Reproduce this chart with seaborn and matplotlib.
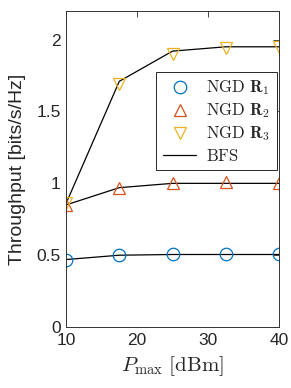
import numpy as np
import pandas as pd
import seaborn as sns
import matplotlib.pyplot as plt
from matplotlib.ticker import FormatStrFormatter

# data
p_max = [10, 17.5, 25, 32.5, 40]
ngd_r1 = [0.465, 0.50, 0.505, 0.505, 0.505]
ngd_r2 = [0.85, 0.97, 1.00, 1.01, 1.00]
ngd_r3 = [0.86, 1.69, 1.90, 1.94, 1.95]
bfs_r1 = [0.47, 0.50, 0.505, 0.505, 0.505]
bfs_r2 = [0.85, 0.97, 1.00, 1.00, 1.00]
bfs_r3 = [0.86, 1.71, 1.92, 1.95, 1.95]

sns.set_style("white")
plt.rcParams['font.family'] = ['Liberation Sans', 'DejaVu Sans']
plt.rcParams['mathtext.fontset'] = 'cm'

fig = plt.figure(figsize=(2.91, 3.88), dpi=100)
ax = fig.add_axes([0.227, 0.157, 0.732, 0.815])

# BFS curves (black lines)
for i, vals in enumerate([bfs_r1, bfs_r2, bfs_r3]):
    sns.lineplot(x=p_max, y=vals, ax=ax, color='black', linewidth=0.9,
                 label='$\\mathrm{BFS}$' if i == 2 else None, legend=False)

# NGD markers
colors = ['#0072BD', '#D95319', '#EDB120']
markers = ['o', '^', 'v']
series = [ngd_r1, ngd_r2, ngd_r3]
handles = []
for k, (vals, c, m) in enumerate(zip(series, colors, markers)):
    h, = ax.plot(p_max, vals, linestyle='', marker=m, markersize=9,
                 markerfacecolor='none', markeredgecolor=c, markeredgewidth=0.9,
                 label='$\\mathrm{NGD}\\ \\mathbf{R}_%d$' % (k + 1))
    handles.append(h)
handles.append(ax.get_lines()[2])

ax.set_xlim(10, 40)
ax.set_ylim(0, 2.2)
ax.set_xticks([10, 20, 30, 40])
ax.set_yticks([0, 0.5, 1, 1.5, 2])
ax.yaxis.set_major_formatter(FormatStrFormatter('%g'))
ax.tick_params(direction='in', top=True, right=True, length=4, width=0.6,
               labelsize=12.5, colors='0.15', pad=4)
for s in ax.spines.values():
    s.set_color('0.2')
    s.set_linewidth(0.7)

ax.set_xlabel('$P_{\\max}\\ [\\mathrm{dBm}]$', fontsize=15, labelpad=5)
ax.set_ylabel('Throughput [bits/s/Hz]', fontsize=14, labelpad=7)

leg = ax.legend(handles=handles, loc='upper right', bbox_to_anchor=(0.99, 0.807),
                borderaxespad=0, fontsize=12, frameon=True, fancybox=False,
                framealpha=1, edgecolor='0.15', borderpad=0.4, handlelength=2.0,
                labelspacing=0.25, handletextpad=0.6)
leg.get_frame().set_linewidth(0.7)

fig.savefig('out.png', dpi=100)
